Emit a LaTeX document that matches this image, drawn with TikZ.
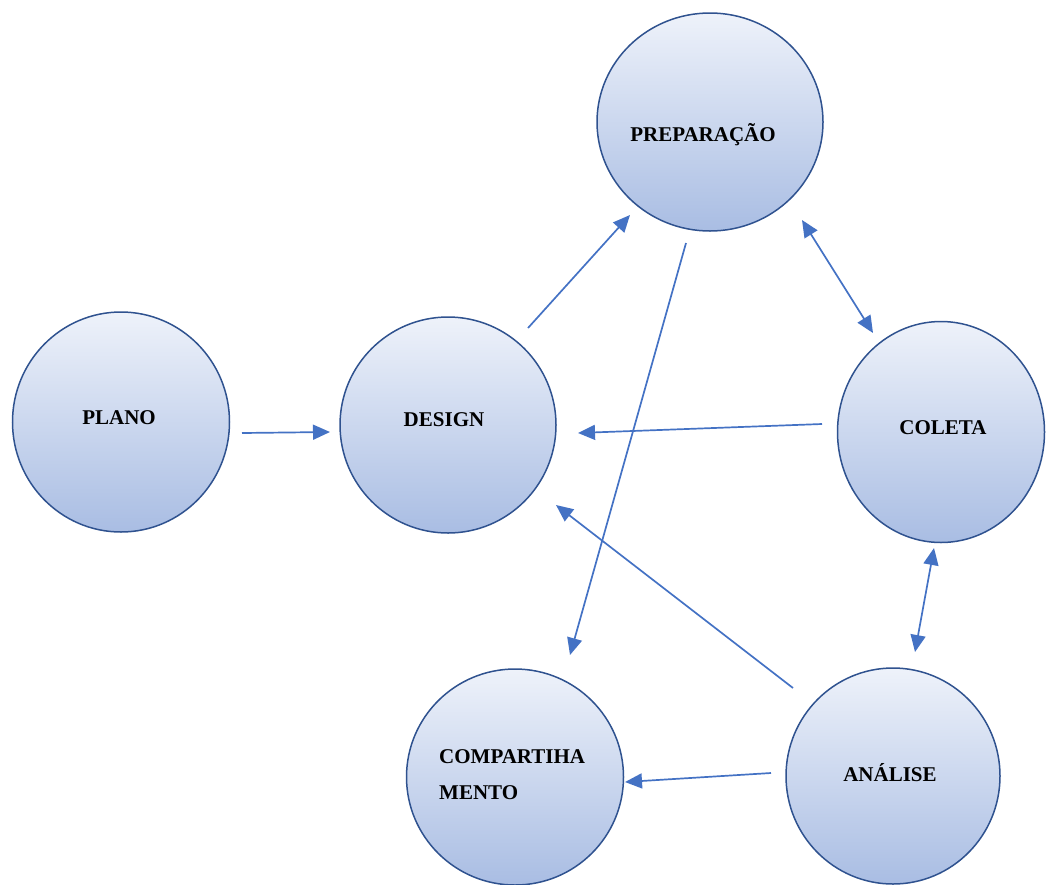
\documentclass[tikz,border=0pt]{standalone}
\usepackage{fontspec}
\setmainfont{Liberation Serif}
\usetikzlibrary{shapes.geometric,arrows.meta}
\definecolor{edgeblue}{HTML}{2F528F}
\definecolor{arrowblue}{HTML}{4472C4}
\definecolor{topfill}{HTML}{EEF2FA}
\definecolor{botfill}{HTML}{A9BDE3}
\tikzset{
  stage/.style={ellipse, draw=edgeblue, line width=1.5pt, top color=topfill, bottom color=botfill, inner sep=0pt},
  lbl/.style={font=\bfseries\fontsize{21}{25}\selectfont, inner sep=0pt},
  conn/.style={draw=arrowblue, line width=1.7pt, -{Triangle[length=17pt,width=15pt]}},
  biconn/.style={draw=arrowblue, line width=1.7pt, {Triangle[length=17pt,width=15pt]}-{Triangle[length=17pt,width=15pt]}}
}
\begin{document}
\begin{tikzpicture}[x=1pt,y=-1pt]
\useasboundingbox (0,0) rectangle (1048,884);
% circles
\node[stage, minimum width=226pt, minimum height=218pt] (prep) at (710,122) {};
\node[stage, minimum width=217pt, minimum height=220pt] (plano) at (121,422) {};
\node[stage, minimum width=216pt, minimum height=216pt] (design) at (448,425) {};
\node[stage, minimum width=207pt, minimum height=221pt] (coleta) at (941,432) {};
\node[stage, minimum width=217pt, minimum height=216pt] (comp) at (515,777) {};
\node[stage, minimum width=214pt, minimum height=216pt] (analise) at (893,776) {};
% labels
\node[lbl] (tprep) at (703,135) {PREPARAÇÃO};
\node[lbl] (tplano) at (119,418) {PLANO};
\node[lbl] (tdesign) at (444,420) {DESIGN};
\node[lbl] (tcoleta) at (943,428) {COLETA};
\node[lbl] (tanalise) at (890,773) {ANÁLISE};
\node[lbl, anchor=west] (tcomp1) at (439,757) {COMPARTIHA};
\node[lbl, anchor=west] (tcomp2) at (439,793) {MENTO};
% connector end points
\coordinate (a1) at (242,433); \coordinate (a2) at (330,432);
\coordinate (b1) at (528,328); \coordinate (b2) at (630,215);
\coordinate (c1) at (686,243); \coordinate (c2) at (570,655);
\coordinate (d1) at (802,220); \coordinate (d2) at (873,333);
\coordinate (e1) at (822,424); \coordinate (e2) at (578,433);
\coordinate (f1) at (793,688); \coordinate (f2) at (556,505);
\coordinate (g1) at (934,548); \coordinate (g2) at (915,652);
\coordinate (h1) at (771,773); \coordinate (h2) at (625,782);
% connectors
\draw[conn] (a1) -- (a2);
\draw[conn] (b1) -- (b2);
\draw[conn] (c1) -- (c2);
\draw[biconn] (d1) -- (d2);
\draw[conn] (e1) -- (e2);
\draw[conn] (f1) -- (f2);
\draw[biconn] (g1) -- (g2);
\draw[conn] (h1) -- (h2);
\end{tikzpicture}
\end{document}
